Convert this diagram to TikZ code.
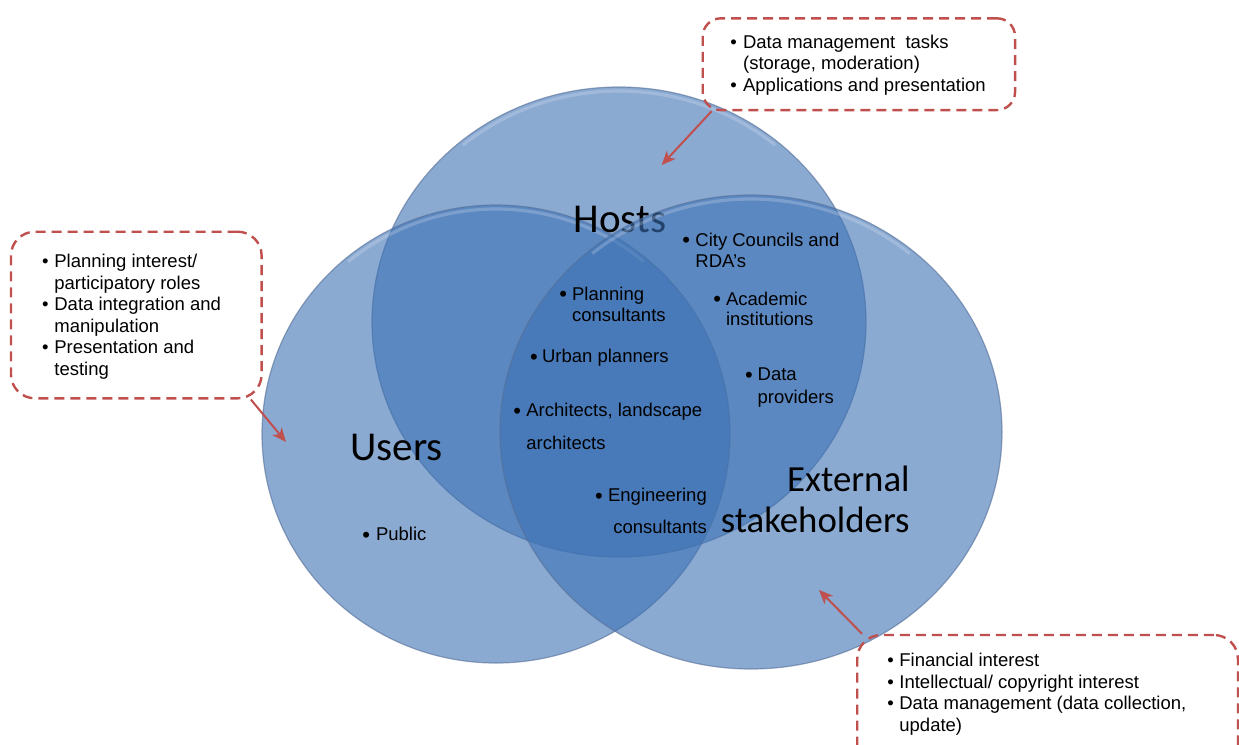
\documentclass[tikz,border=0pt]{standalone}
\usepackage{fontspec}
\setmainfont{Liberation Sans}
\newfontfamily\calibri{Carlito}
\usepackage{tikz}
\usetikzlibrary{arrows.meta, positioning, calc}
\definecolor{VennBlue}{RGB}{60,113,180}
\definecolor{VennEdge}{RGB}{85,110,150}
\definecolor{NoteRed}{RGB}{192,80,77}
\newcommand{\bigdot}{\raisebox{-0.7pt}{\fontsize{11}{11}\selectfont\textbullet}}

\begin{document}
\begin{tikzpicture}[
        x=0.5pt, y=-0.5pt, >=Stealth,
        setshape/.style={fill=VennBlue, fill opacity=0.6, draw=VennEdge, draw opacity=0.6, line width=0.6pt},
        rim/.style={white, opacity=0.2, line width=1.6pt},
        setname/.style={inner sep=0pt, font=\calibri\fontsize{20.5}{22}\selectfont},
        setnameS/.style={inner sep=0pt, font=\calibri\fontsize{18.4}{20}\selectfont},
        notebox/.style={draw=NoteRed, line width=1.2pt, dash pattern=on 5pt off 3pt, rounded corners=9pt, inner sep=0pt},
        notetext/.style={anchor=base west, inner sep=0pt, align=left, font=\fontsize{9.25}{10.75}\selectfont},
        pointer/.style={->, NoteRed, line width=1pt, >={Stealth[length=7pt, width=6pt, inset=2pt]}},
      ]
        \useasboundingbox (0,0) rectangle (1239,745);
        \clip (0,0) rectangle (1239,745);
        % drei Mengen (Hosts, Users, External stakeholders)
        \draw[setshape] (619,322) ellipse [x radius=247, y radius=235];
        \draw[rim] ($(619,322)+(230:243 and 231)$) arc [start angle=230, end angle=310, x radius=243, y radius=231];
        \draw[setshape] (496,434) ellipse [x radius=234, y radius=229];
        \draw[rim] ($(496,434)+(230:230 and 225)$) arc [start angle=230, end angle=310, x radius=230, y radius=225];
        \node[setname, anchor=base] (hostsname) at (620,232.7) {Hosts};
        \draw[setshape] (751,432) ellipse [x radius=251, y radius=237];
        \draw[rim] ($(751,432)+(230:247 and 233)$) arc [start angle=230, end angle=310, x radius=247, y radius=233];
        \node[setname, anchor=base] (usersname) at (396.5,460.7) {Users};
        \node[setnameS, anchor=base east] (extname1) at (910,491.7) {External};
        \node[setnameS, anchor=base east] (extname2) at (910,532.7) {stakeholders};
        % Einträge in den Schnittmengen
        \node[notetext] (cityitem) at (682,246) {\begin{tabular}[t]{@{}p{6.5pt}@{}l@{}}\bigdot & City Councils and\\ & RDA’s\end{tabular}};
        \node[notetext] (acaditem) at (713,305) {\begin{tabular}[t]{@{}p{6.35pt}@{}l@{}}\bigdot & Academic\\[-0.4pt] & institutions\end{tabular}};
        \node[notetext] (dataitem) at (744.7,380.7) {\begin{tabular}[t]{@{}p{6.3pt}@{}l@{}}\bigdot & Data\\[0.5pt] & providers\end{tabular}};
        \node[notetext] (planitem) at (559,300) {\begin{tabular}[t]{@{}p{6.35pt}@{}l@{}}\bigdot & Planning\\ & consultants\end{tabular}};
        \node[notetext] (urbanitem) at (529.7,362.7) {\begin{tabular}[t]{@{}p{6pt}@{}l@{}}\bigdot & Urban planners\end{tabular}};
        \node[notetext] (architem) at (513,416.7) {\begin{tabular}[t]{@{}p{6.5pt}@{}l@{}}\bigdot & Architects, landscape\\[5.5pt] & architects\end{tabular}};
        \node[notetext] (enginitem) at (594.7,501.7) {\begin{tabular}[t]{@{}p{6.5pt}@{}r@{}}\bigdot & Engineering\\[5pt] & consultants\end{tabular}};
        \node[notetext] (publicitem) at (362,540.7) {\begin{tabular}[t]{@{}p{6.8pt}@{}l@{}}\bigdot & Public\end{tabular}};
        % Hinweiskästen
        \node[notebox, minimum width=312.3pt*0.5, minimum height=91.7pt*0.5] (hostsbox) at (858.9,64.2) {};
        \node[notetext] (hostslist) at (730,48) {\begin{tabular}[t]{@{}p{6.35pt}@{}l@{}}\textbullet & Data management\ \ tasks\\ & (storage, moderation)\\ \textbullet & Applications and presentation\end{tabular}};
        \node[notebox, minimum width=250.7pt*0.5, minimum height=166.6pt*0.5, rounded corners=12pt] (usersbox) at (136.3,315) {};
        \node[notetext] (userslist) at (41.7,267.7) {\begin{tabular}[t]{@{}p{6.15pt}@{}l@{}}\textbullet & Planning interest/\\ & participatory roles\\ \textbullet & Data integration and\\ & manipulation\\ \textbullet & Presentation and\\ & testing\end{tabular}};
        \node[notebox, minimum width=380.7pt*0.5, minimum height=150pt*0.5, rounded corners=12pt] (extbox) at (1047.6,710) {};
        \node[notetext] (extlist) at (887,666.7) {\begin{tabular}[t]{@{}p{6pt}@{}l@{}}\textbullet & Financial interest\\ \textbullet & Intellectual/ copyright interest\\ \textbullet & Data management (data collection,\\ & update)\end{tabular}};
        % Pfeile
        \coordinate (hoststip) at (661.7,165);
        \coordinate (userstip) at (286,442);
        \coordinate (exttip) at (819,590);
        \draw[pointer] ([xshift=5pt]hostsbox.south west) -- (hoststip);
        \draw[pointer] ([xshift=-6pt]usersbox.south east) -- (userstip);
        \draw[pointer] ([xshift=3pt]extbox.north west) -- (exttip);
      \end{tikzpicture}
\end{document}
